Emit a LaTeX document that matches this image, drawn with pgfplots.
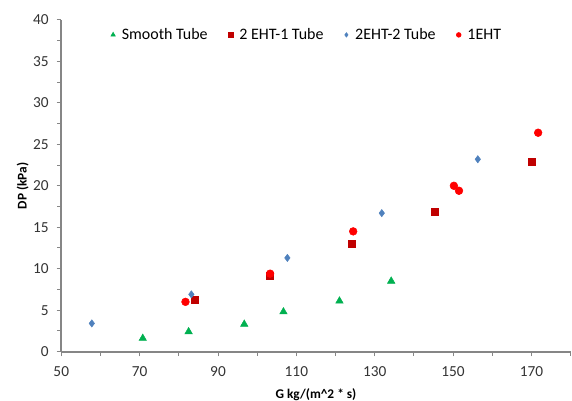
\documentclass[border=0pt]{standalone}
\usepackage{fontspec}
\setmainfont{Carlito}
\usepackage{pgfplots}
\pgfplotsset{compat=1.18}

\definecolor{smoothgreen}{HTML}{00B050}
\definecolor{darkred}{HTML}{C00000}
\definecolor{steelblue}{HTML}{4F81BD}
\definecolor{brightred}{HTML}{FF0000}
\definecolor{axisgray}{HTML}{868686}

\begin{document}
\begin{tikzpicture}
  \begin{axis}[
      name=ax,
      scale only axis,
      width=382.5pt,
      height=249pt,
      xmin=50, xmax=180,
      ymin=0, ymax=40,
      xtick={50,70,...,170},
      minor xtick={60,80,...,180},
      ytick={0,5,...,40},
      minor ytick={2.5,7.5,...,37.5},
      axis lines*=left,
      axis line style={axisgray, line width=1.4pt},
      tick style={axisgray, line width=0.75pt},
      major tick length=3.5pt,
      minor tick length=3pt,
      tick align=outside,
      xlabel={\textbf{G kg/(m\^{}2 * s)}},
      ylabel={\textbf{DP (kPa)}},
      label style={font=\fontsize{11.5}{13}\selectfont, text=black!85, inner sep=0pt},
      every axis x label/.style={at={(axis description cs:0.5,-0.1305)}, anchor=center},
      every axis y label/.style={at={(axis description cs:-0.0758,0.5)}, anchor=center, rotate=90},
      tick label style={font=\fontsize{11.5}{13}\selectfont, text=black!80},
      xticklabel style={yshift=-4.5pt},
      yticklabel style={xshift=-2.4pt},
      /pgf/number format/assume math mode=true,
      legend columns=4,
      legend style={
          draw=none,
          fill=none,
          font=\fontsize{12}{14}\selectfont,
          at={(0.483,0.955)},
          anchor=center,
          /tikz/every even column/.append style={column sep=13.5pt},
      },
      legend image code/.code={
          \path[draw=none, fill=none] (-0.06cm,0cm) (0.16cm,0cm);
          \draw[#1, mark options={scale=0.62}] plot coordinates {(0cm,0cm)};
      },
      legend cell align=left,
  ]

  % --- Smooth Tube ---
  \addplot[only marks, mark=triangle*, mark size=3.2pt, color=smoothgreen] coordinates {
  (70.8, 1.6) (82.5, 2.4) (96.7, 3.3) (106.7, 4.8) (121.0, 6.1) (134.2, 8.5)
  };
  \addlegendentry{Smooth Tube}

  % --- 2 EHT-1 Tube ---
  \addplot[only marks, mark=square*, mark size=2.7pt, color=darkred] coordinates {
  (84.0, 6.3) (103.3, 9.1) (124.2, 13.0) (145.3, 16.9) (170.0, 22.9)
  };
  \addlegendentry{2 EHT-1 Tube}

  % --- 2EHT-2 Tube ---
  \addplot[only marks, mark=diamond*, mark size=2.7pt, color=steelblue] coordinates {
  (57.8, 3.4) (83.2, 6.9) (107.7, 11.3) (131.8, 16.7) (156.3, 23.2)
  };
  \addlegendentry{2EHT-2 Tube}

  % --- 1EHT ---
  \addplot[only marks, mark=*, mark size=2.9pt, color=brightred] coordinates {
  (81.7, 6.0) (103.3, 9.4) (124.5, 14.5) (150.2, 20.0) (151.5, 19.4) (171.7, 26.4)
  };
  \addlegendentry{1EHT}

  \end{axis}
  % chart-area padding, as in the original
  \pgfresetboundingbox
  \path ([shift={(-46pt,-36.75pt)}]ax.south west) rectangle ([shift={(1pt,15pt)}]ax.north east);
\end{tikzpicture}
\end{document}
